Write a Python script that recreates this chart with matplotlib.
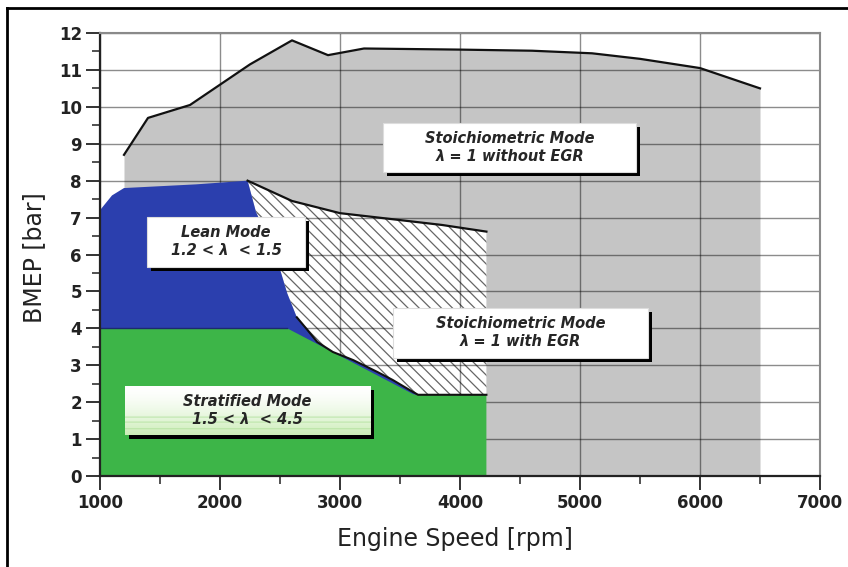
import numpy as np
import matplotlib
matplotlib.use("Agg")
import matplotlib.pyplot as plt
from matplotlib.patches import Polygon, Rectangle
from matplotlib.lines import Line2D
from matplotlib import transforms

# ---- operating-mode map data (engine speed in rpm, BMEP in bar) ----
full_load_rpm = [1200, 1400, 1750, 2000, 2250, 2600, 2900, 3200, 4000, 4600, 5100, 5500, 6000, 6500]
full_load_bmep = [8.7, 9.7, 10.05, 10.6, 11.15, 11.8, 11.4, 11.58, 11.55, 11.52, 11.45, 11.3, 11.05, 10.5]

lean_top_rpm = [1000, 1100, 1200, 1800, 2230]
lean_top_bmep = [7.2, 7.6, 7.8, 7.9, 8.0]

egr_lower_rpm = [2230, 2300, 2420, 2500, 2560, 2640, 2730, 2810, 2940, 3110, 3310, 3440, 3580, 3650]
egr_lower_bmep = [8.0, 7.15, 6.3, 5.6, 4.95, 4.3, 3.95, 3.63, 3.36, 3.14, 2.82, 2.6, 2.33, 2.2]

egr_upper_rpm = [2230, 2600, 3000, 3400, 3850, 4220]
egr_upper_bmep = [8.0, 7.45, 7.12, 6.97, 6.8, 6.62]

strat_rpm = [1000, 2560, 3620, 4220]
strat_bmep = [4.0, 4.0, 2.2, 2.2]

x_ticks = [1000, 2000, 3000, 4000, 5000, 6000, 7000]
y_ticks = list(range(0, 13))

labels = {
    "stoich": "Stoichiometric Mode\nλ = 1 without EGR",
    "lean": "Lean Mode\n1.2 < λ  < 1.5",
    "egr": "Stoichiometric Mode\nλ = 1 with EGR",
    "strat": "Stratified Mode\n1.5 < λ  < 4.5",
}

GRAY = "#c5c5c5"
BLUE = "#2b3fae"
GREEN = "#3db548"
DARK = "#222222"

plt.rcParams["hatch.linewidth"] = 0.9

fig = plt.figure(figsize=(8.48, 5.67), dpi=100)
fig.patch.set_facecolor("white")
ax = fig.add_axes([100 / 848, 91 / 567, 720 / 848, 443 / 567])
ax.set_xlim(1000, 7000)
ax.set_ylim(0, 12)
ax.set_facecolor("white")

# stoichiometric full-load area
ax.fill_between(full_load_rpm, full_load_bmep, 0, color=GRAY, lw=0, zorder=1)
ax.plot(full_load_rpm, full_load_bmep, color="#111111", lw=1.6, zorder=5)

# EGR area (white, hatched)
egr_pts = list(zip(egr_upper_rpm, egr_upper_bmep)) + [(egr_upper_rpm[-1], strat_bmep[-1])] \
    + list(zip(egr_lower_rpm[::-1], egr_lower_bmep[::-1]))
ax.add_patch(Polygon(egr_pts, closed=True, facecolor="white", edgecolor="#666666",
                     hatch="\\\\\\", lw=0, zorder=1.5))
ax.plot(egr_upper_rpm, egr_upper_bmep, color="#111111", lw=1.6, zorder=5)

# lean area
lean_pts = list(zip(lean_top_rpm, lean_top_bmep)) + list(zip(egr_lower_rpm[1:], egr_lower_bmep[1:])) \
    + [(1000, strat_bmep[-1])]
ax.add_patch(Polygon(lean_pts, closed=True, facecolor=BLUE, edgecolor="none", zorder=3))

# stratified area
strat_pts = list(zip(strat_rpm, strat_bmep)) + [(strat_rpm[-1], 0), (strat_rpm[0], 0)]
ax.add_patch(Polygon(strat_pts, closed=True, facecolor=GREEN, edgecolor="none", zorder=3.2))
ax.plot(strat_rpm[:2], strat_bmep[:2], color="#1c2a6e", lw=1.0, zorder=3.3)
ax.plot(egr_lower_rpm[5:] + [strat_rpm[-1]], egr_lower_bmep[5:] + [strat_bmep[-1]],
        color="#111111", lw=1.5, zorder=5)

# grid
ax.set_xticks(x_ticks)
ax.set_yticks(y_ticks)
ax.set_xticks(np.arange(1500, 7000, 1000), minor=True)
ax.set_yticks(np.arange(0.5, 12, 1.0), minor=True)
ax.grid(True, which="major", color="black", alpha=0.45, lw=1.0, zorder=2)
ax.set_axisbelow(False)
for gl in ax.get_xgridlines() + ax.get_ygridlines():
    gl.set_zorder(2)

ax.tick_params(which="major", direction="out", length=10, width=1.4, color="#333333",
               labelsize=12, pad=3, labelcolor=DARK)
ax.tick_params(which="minor", direction="out", length=6, width=1.2, color="#333333")
for lab in ax.get_xticklabels() + ax.get_yticklabels():
    lab.set_fontweight("bold")

for side in ("top", "right"):
    ax.spines[side].set_color("#8a8a8a")
    ax.spines[side].set_linewidth(1.5)
for side in ("bottom", "left"):
    ax.spines[side].set_color("#222222")
    ax.spines[side].set_linewidth(1.6)
for sp in ax.spines.values():
    sp.set_zorder(6)

ax.set_xlabel("Engine Speed [rpm]", fontsize=17, color=DARK)
ax.set_ylabel("BMEP [bar]", fontsize=17, color=DARK)
ax.xaxis.set_label_coords(0.493, -0.115)
ax.yaxis.set_label_coords(-0.075, 0.494)

# mode labels in white boxes with drop shadow
shadow_tf = transforms.offset_copy(ax.transData, fig=fig, x=4, y=-4, units="dots")
boxes = {
    "stoich": (3358, 8.24, 2109, 1.33),
    "lean": (1392, 5.66, 1316, 1.36),
    "egr": (3442, 3.20, 2125, 1.35),
    "strat": (1208, 1.11, 2042, 1.33),
}
for key, (x0, y0, w, h) in boxes.items():
    ax.add_patch(Rectangle((x0, y0), w, h, facecolor="black", edgecolor="none",
                           transform=shadow_tf, zorder=7))
    if key == "strat":
        rect = Rectangle((x0, y0), w, h, facecolor="none", edgecolor="none", zorder=8)
        ax.add_patch(rect)
        grad = np.linspace(0, 1, 60)[:, None]
        top = np.array([1.0, 1.0, 1.0])
        bot = np.array([0.80, 0.93, 0.72])
        img = top + (bot - top) * grad[..., None] ** 1.6
        img = np.repeat(img, 2, axis=1)
        for r in (38, 44, 52):
            img[r, :, :] = [0.70, 0.88, 0.62]
        im = ax.imshow(img, extent=(x0, x0 + w, y0, y0 + h), origin="upper",
                       aspect="auto", zorder=8, interpolation="bilinear")
        im.set_clip_path(rect)
    else:
        ax.add_patch(Rectangle((x0, y0), w, h, facecolor="white", edgecolor="#dddddd",
                               lw=0.8, zorder=8))
    ax.text(x0 + w / 2, y0 + h / 2, labels[key], ha="center", va="center",
            fontsize=10.5, fontweight="bold", fontstyle="italic", color="#262626",
            linespacing=1.25, zorder=9)

ax.set_xlim(1000, 7000)
ax.set_ylim(0, 12)

# outer frame lines
fig.add_artist(Line2D([7 / 848, 1.0], [1 - 8 / 567, 1 - 8 / 567], transform=fig.transFigure,
                      color="black", lw=2))
fig.add_artist(Line2D([7 / 848, 7 / 848], [0, 1 - 8 / 567], transform=fig.transFigure,
                      color="black", lw=2))

fig.savefig("out.png", dpi=100)
